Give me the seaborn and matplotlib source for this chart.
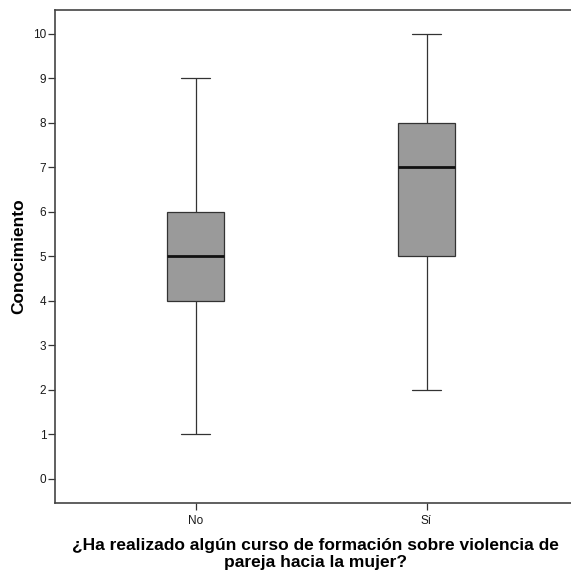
import numpy as np
import pandas as pd
import matplotlib
matplotlib.use("Agg")
import matplotlib.pyplot as plt
import seaborn as sns

# five-number summaries
groups = ["No", "Sí"]
whisker_low = [1, 2]
q1 = [4, 5]
median = [5, 7]
q3 = [6, 8]
whisker_high = [9, 10]

rows = []
for i, g in enumerate(groups):
    for v in (whisker_low[i], q1[i], median[i], q3[i], whisker_high[i]):
        rows.append({"grupo": g, "Conocimiento": v})
df = pd.DataFrame(rows)

sns.set_style("white")
plt.rcParams["font.family"] = ["Liberation Sans", "DejaVu Sans"]

fig = plt.figure(figsize=(5.71, 5.76), dpi=100)
ax = fig.add_axes([0.0956, 0.127, 0.9144, 0.856])

sns.boxplot(
    data=df, x="grupo", y="Conocimiento", order=groups,
    whis=(0, 100), width=0.25, color="#9a9a9a", saturation=1,
    linecolor="#333333", linewidth=0.9,
    medianprops={"color": "#111111", "linewidth": 2.0},
    ax=ax,
)

ax.set_ylim(-0.54, 10.54)
ax.set_xlim(-0.61, 1.65)
ax.set_yticks(range(0, 11))
ax.tick_params(axis="both", direction="out", length=5, width=0.9,
               color="#333333", labelcolor="#1a1a1a", labelsize=8.5,
               left=True, bottom=True)
ax.tick_params(axis="y", pad=1)
ax.tick_params(axis="x", pad=4)
for side in ["left", "top", "bottom"]:
    ax.spines[side].set_color("#444444")
    ax.spines[side].set_linewidth(1.2)
ax.spines["right"].set_visible(False)

ax.set_ylabel("Conocimiento", fontsize=12.5, fontweight="bold", labelpad=5, color="black")
ax.set_xlabel("¿Ha realizado algún curso de formación sobre violencia de\npareja hacia la mujer?",
              fontsize=12.5, fontweight="bold", labelpad=8, linespacing=1.1, color="black")

fig.savefig("out.png", dpi=100)
